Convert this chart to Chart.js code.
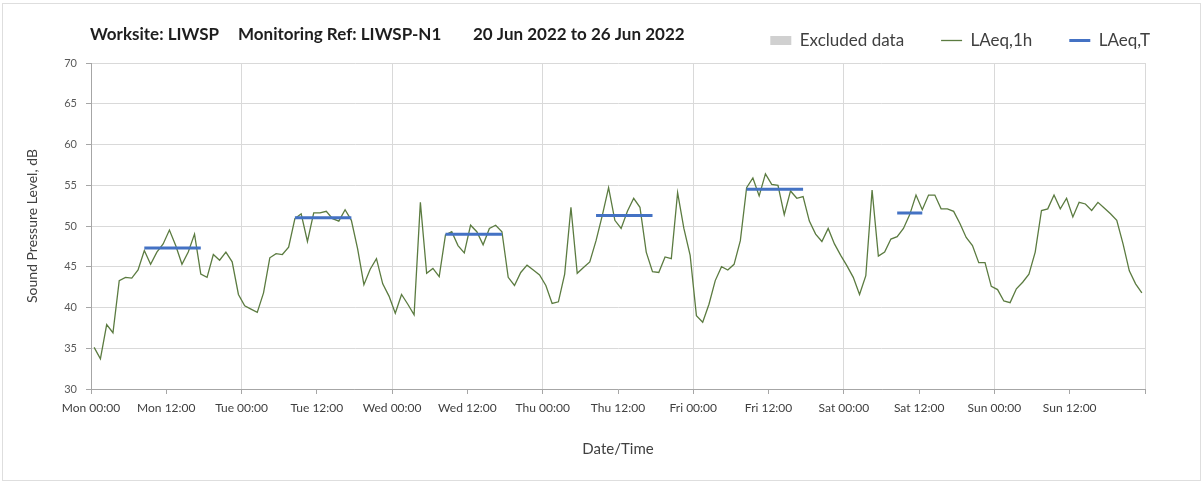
<!DOCTYPE html>
<html>
<head>
<meta charset="utf-8">
<script src="https://cdn.jsdelivr.net/npm/chart.js@4.4.0/dist/chart.umd.min.js"></script>
<style>
body { margin: 0; background: #fff; }
#wrap { position: relative; width: 1203px; height: 483px; }
#frame { position: absolute; left: 2px; top: 3px; right: 2px; bottom: 2px; border: 1px solid #dedede; pointer-events: none; }
</style>
</head>
<body>
<div id="wrap">
  <canvas id="noise" width="1203" height="483"></canvas>
  <div id="frame"></div>
</div>
<script>
// tick labels every 12 hours, last tick (168 h) unlabelled
const tickLabels = ["Mon 00:00","Mon 12:00","Tue 00:00","Tue 12:00","Wed 00:00","Wed 12:00",
  "Thu 00:00","Thu 12:00","Fri 00:00","Fri 12:00","Sat 00:00","Sat 12:00","Sun 00:00","Sun 12:00",""];

const titleParts = ["Worksite: LIWSP", "Monitoring Ref: LIWSP-N1", "20 Jun 2022 to 26 Jun 2022"];

// hourly LAeq,1h, dB (Mon 00:00 -> Sun 23:00)
const laeq1h = [
  35.1, 33.7, 37.9, 36.9, 43.3, 43.7, 43.6, 44.6, 47.0, 45.3, 46.8, 47.8, 49.5, 47.6, 45.3, 46.8, 49.0, 44.1, 43.7, 46.5, 45.8, 46.8, 45.6, 41.6,
  40.2, 39.8, 39.4, 41.8, 46.1, 46.6, 46.5, 47.4, 50.9, 51.5, 48.1, 51.6, 51.6, 51.8, 50.9, 50.6, 52.0, 50.7, 47.2, 42.8, 44.7, 46.0, 42.9, 41.4,
  39.3, 41.6, 40.4, 39.1, 52.9, 44.2, 44.8, 43.8, 48.9, 49.3, 47.6, 46.7, 50.1, 49.3, 47.7, 49.7, 50.1, 49.3, 43.7, 42.7, 44.3, 45.2, 44.6, 44.0,
  42.7, 40.5, 40.7, 44.1, 52.3, 44.2, 44.9, 45.6, 48.2, 51.3, 54.7, 50.7, 49.7, 51.8, 53.4, 52.3, 46.8, 44.4, 44.3, 46.2, 46.0, 54.1, 49.7, 46.4,
  39.0, 38.2, 40.4, 43.3, 45.0, 44.6, 45.3, 48.2, 54.7, 55.9, 53.7, 56.4, 55.1, 55.0, 51.4, 54.3, 53.4, 53.6, 50.6, 49.0, 48.1, 49.7, 47.8, 46.4,
  45.1, 43.7, 41.6, 43.9, 54.4, 46.3, 46.8, 48.4, 48.7, 49.7, 51.4, 53.8, 52.0, 53.8, 53.8, 52.1, 52.1, 51.8, 50.3, 48.6, 47.6, 45.5, 45.5, 42.6,
  42.2, 40.8, 40.6, 42.3, 43.1, 44.1, 46.8, 51.9, 52.1, 53.8, 52.1, 53.4, 51.1, 52.9, 52.7, 51.9, 52.9, 52.2, 51.5, 50.7, 47.8, 44.5, 42.9, 41.8
];

// LAeq,T over each working period (hours from Mon 00:00)
const periodStart = [8, 32, 56, 80, 104, 128];
const periodEnd = [18, 42, 66, 90, 114, 133];
const laeqT = [47.3, 51.0, 49.0, 51.3, 54.5, 51.6];

const FONT = "Lato";

// each hourly value plotted at the middle of its hour
const hourly = laeq1h.map((v, i) => ({x: i + 0.5, y: v}));
const periods = [];
laeqT.forEach(function(v, i){
    periods.push({x: periodStart[i] + 0.5, y: v});
    periods.push({x: periodEnd[i] - 0.5, y: v});
    periods.push({x: periodEnd[i], y: null});
});

const header = {
    id: "header",
    afterDraw(chart){
        const ctx = chart.ctx;
        const xs = [90, 238, 473];
        ctx.save();
        ctx.font = "bold 17px " + FONT;
        ctx.fillStyle = "#1e1e1e";
        ctx.textBaseline = "middle";
        titleParts.forEach(function(t, i){ ctx.fillText(t, xs[i], 35); });
        ctx.restore();
    }
};

const canvas = document.getElementById("noise");

const cfg = {
    type: "line",
    data: {
        datasets: [
            {
                label: "Excluded data",
                data: [],
                pointStyle: "rect",
                backgroundColor: "#d0d0d0",
                borderColor: "#d0d0d0",
                borderWidth: 0,
                order: 0
            },
            {
                label: "LAeq,1h",
                data: hourly,
                borderColor: "#5b7b40",
                borderWidth: 1.3,
                pointBorderWidth: 1.3,
                pointRadius: 0,
                pointStyle: "line",
                tension: 0,
                order: 2
            },
            {
                label: "LAeq,T",
                data: periods,
                borderColor: "#4472c4",
                borderWidth: 3,
                pointBorderWidth: 3,
                pointRadius: 0,
                pointStyle: "line",
                spanGaps: false,
                order: 1
            }
        ]
    },
    options: {
        responsive: false,
        animation: false,
        layout: { padding: { top: -5, right: 16, bottom: 10, left: 0 } },
        plugins: {
            legend: {
                align: "end",
                labels: {
                    usePointStyle: true,
                    pointStyleWidth: 21,
                    boxHeight: 9,
                    padding: 37,
                    color: "#404040",
                    font: { family: FONT, size: 17 },
                    sort: (a, b) => a.datasetIndex - b.datasetIndex
                }
            },
            tooltip: { enabled: false }
        },
        scales: {
            x: {
                type: "linear",
                min: 0,
                max: 168,
                afterFit(s){ s.height = 84; },
                ticks: {
                    stepSize: 12,
                    autoSkip: false,
                    maxRotation: 0,
                    padding: 7,
                    color: "#404040",
                    font: { family: FONT, size: 12 },
                    callback: (v) => tickLabels[Math.round(v / 12)]
                },
                grid: {
                    color: (c) => (c.tick && c.tick.value % 24 === 0) ? "#d9d9d9" : "rgba(0,0,0,0)",
                    tickColor: "#a6a6a6",
                    tickLength: 5
                },
                border: { color: "#a6a6a6" },
                title: {
                    display: true,
                    text: "Date/Time",
                    color: "#404040",
                    font: { family: FONT, size: 15 },
                    padding: { top: 0, bottom: 15 }
                }
            },
            y: {
                min: 30,
                max: 70,
                afterFit(s){ s.width = 91; },
                ticks: {
                    stepSize: 5,
                    padding: 9,
                    color: "#595959",
                    font: { family: FONT, size: 11 }
                },
                grid: { color: "#d9d9d9", tickColor: "#a6a6a6", tickLength: 5 },
                border: { color: "#a6a6a6" },
                title: {
                    display: true,
                    text: "Sound Pressure Level, dB",
                    color: "#404040",
                    font: { family: FONT, size: 14 },
                    padding: { top: 24, bottom: 0 }
                }
            },
            // empty spacer axes: keep the legend row and the right margin apart from the plot
            xTop: {
                type: "linear",
                position: "top",
                grid: { display: false },
                border: { display: false },
                ticks: { display: false },
                afterFit(s){ s.height = 4; }
            },
            yRight: {
                type: "linear",
                position: "right",
                grid: { display: false },
                border: { display: false },
                ticks: { display: false },
                afterFit(s){ s.width = 42; }
            }
        }
    },
    plugins: [header]
};

const chart = new Chart(canvas, cfg);
</script>
</body>
</html>
